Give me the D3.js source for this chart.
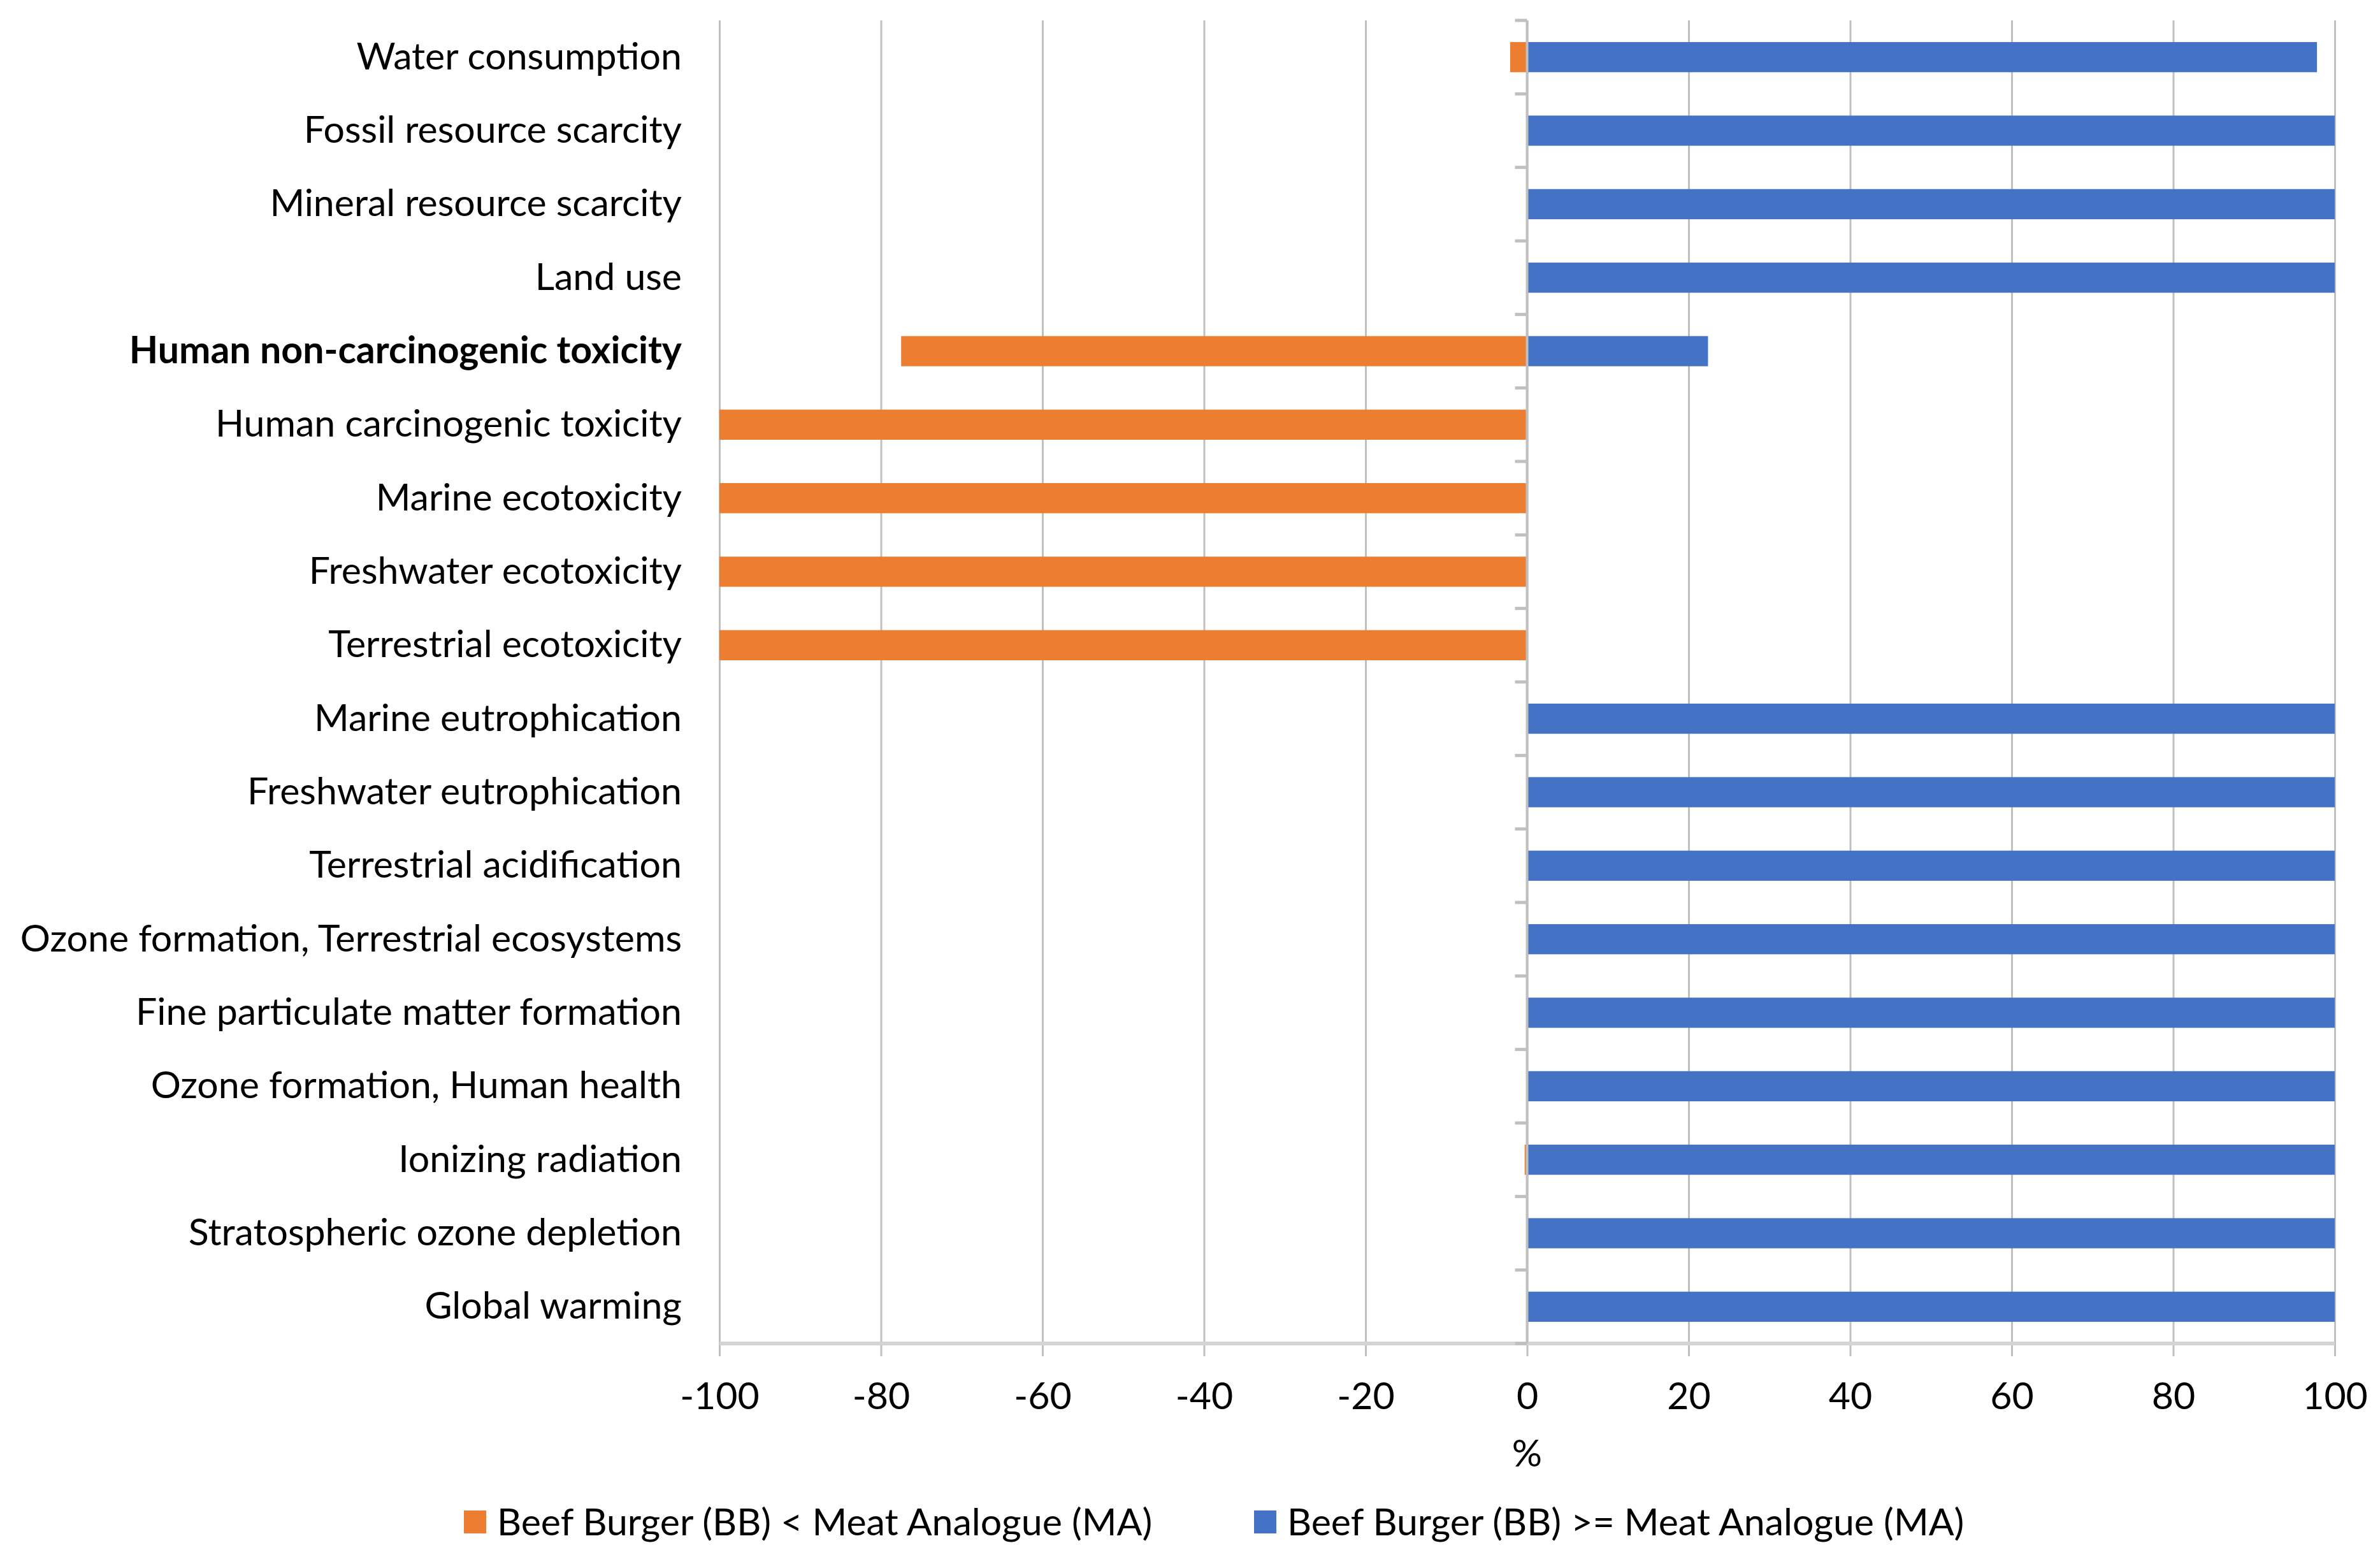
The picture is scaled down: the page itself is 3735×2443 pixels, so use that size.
<!DOCTYPE html>
<html>
<head>
<meta charset="utf-8">
<script src="https://cdn.jsdelivr.net/npm/d3@7"></script>
<style>
  html, body { margin: 0; padding: 0; background: #ffffff; }
  svg { display: block; }
  text { font-family: Lato, "Open Sans", sans-serif; fill: #000; }
</style>
</head>
<body>
<svg id="chart" width="3735" height="2443"></svg>
<script>
const categories = [
  "Water consumption",
  "Fossil resource scarcity",
  "Mineral resource scarcity",
  "Land use",
  "Human non-carcinogenic toxicity",
  "Human carcinogenic toxicity",
  "Marine ecotoxicity",
  "Freshwater ecotoxicity",
  "Terrestrial ecotoxicity",
  "Marine eutrophication",
  "Freshwater eutrophication",
  "Terrestrial acidification",
  "Ozone formation, Terrestrial ecosystems",
  "Fine particulate matter formation",
  "Ozone formation, Human health",
  "Ionizing radiation",
  "Stratospheric ozone depletion",
  "Global warming"
];
// Beef Burger (BB) < Meat Analogue (MA)  (negative side, orange)
const lessValues = [-2.1, 0, 0, 0, -77.5, -100, -100, -100, -100, 0, 0, 0, 0, 0, 0, -0.3, 0, 0];
// Beef Burger (BB) >= Meat Analogue (MA) (positive side, blue)
const geValues = [97.8, 100, 100, 100, 22.4, 0, 0, 0, 0, 100, 100, 100, 100, 100, 100, 100, 100, 100];
const xTicks = [-100, -80, -60, -40, -20, 0, 20, 40, 60, 80, 100];
const boldCategories = ["Human non-carcinogenic toxicity"];
const seriesNames = ["Beef Burger (BB) < Meat Analogue (MA)", "Beef Burger (BB) >= Meat Analogue (MA)"];
const seriesColors = ["#ED7D31", "#4472C4"];
const axisTitle = "%";

const svg = d3.select("#chart");
const pLeft = 1129, pRight = 3664, pTop = 32, pBottom = 2108;
const fontSize = 59;
const fontFam = "Lato, 'Open Sans', sans-serif";

const x = d3.scaleLinear().domain([-100, 100]).range([pLeft, pRight]);
const y = d3.scaleBand().domain(categories).range([pTop, pBottom]).paddingInner(0.59).paddingOuter(0.295);

// vertical gridlines (extending below the axis as ticks)
const grid = svg.append("g").attr("transform", `translate(0,${pBottom + 20})`)
  .call(d3.axisBottom(x).tickValues(xTicks).tickSize(-(pBottom + 20 - pTop)).tickFormat(""));
grid.select(".domain").remove();
grid.selectAll(".tick line").attr("stroke", "#c0c0c0").attr("stroke-width", 3);

// horizontal axis line
svg.append("line")
  .attr("x1", pLeft).attr("x2", pRight).attr("y1", pBottom).attr("y2", pBottom)
  .attr("stroke", "#d4d4d4").attr("stroke-width", 6);

// bars
const rows = categories.map((c, i) => ({ c, less: lessValues[i], ge: geValues[i] }));
const bh = y.bandwidth();
svg.append("g").selectAll("rect").data(rows.filter(d => d.less !== 0)).join("rect")
  .attr("x", d => x(d.less)).attr("width", d => x(0) - x(d.less))
  .attr("y", d => y(d.c)).attr("height", bh).attr("fill", seriesColors[0]);
svg.append("g").selectAll("rect").data(rows.filter(d => d.ge !== 0)).join("rect")
  .attr("x", x(0)).attr("width", d => x(d.ge) - x(0))
  .attr("y", d => y(d.c)).attr("height", bh).attr("fill", seriesColors[1]);

// vertical category axis at zero with ticks at band boundaries
const step = y.step();
svg.append("line")
  .attr("x1", x(0)).attr("x2", x(0)).attr("y1", pTop).attr("y2", pBottom)
  .attr("stroke", "#c0c0c0").attr("stroke-width", 4);
const boundaries = categories.map(c => y(c) + bh / 2 - step / 2)
  .concat([y(categories[categories.length - 1]) + bh / 2 + step / 2]);
svg.append("g").selectAll("line").data(boundaries).join("line")
  .attr("x1", x(0) - 19).attr("x2", x(0)).attr("y1", d => d).attr("y2", d => d)
  .attr("stroke", "#c0c0c0").attr("stroke-width", 5);

// category labels
const yl = svg.append("g").attr("transform", `translate(1070,0)`)
  .call(d3.axisLeft(y).tickSize(0).tickPadding(0));
yl.select(".domain").remove();
yl.selectAll("text")
  .attr("font-size", fontSize)
  .attr("font-family", fontFam)
  .attr("fill", "#000")
  .attr("font-weight", d => boldCategories.includes(d) ? "bold" : "normal");

// x tick labels
const xl = svg.append("g").attr("transform", `translate(0,${pBottom})`)
  .call(d3.axisBottom(x).tickValues(xTicks).tickSize(0).tickFormat(d => String(d)));
xl.select(".domain").remove();
xl.selectAll("text").attr("y", 82).attr("dy", "0.35em")
  .attr("font-size", fontSize).attr("font-family", fontFam).attr("fill", "#000");

// axis title
svg.append("text").attr("x", x(0)).attr("y", 2280).attr("dy", "0.35em")
  .attr("text-anchor", "middle").attr("font-size", fontSize).attr("font-family", fontFam).text(axisTitle);

// legend
const legendX = [728, 1968];
const lg = svg.append("g").selectAll("g").data(seriesNames).join("g")
  .attr("transform", (d, i) => `translate(${legendX[i]},2388)`);
lg.append("rect").attr("x", 0).attr("y", -18).attr("width", 35).attr("height", 36)
  .attr("fill", (d, i) => seriesColors[i]);
lg.append("text").attr("x", 52).attr("y", 0).attr("dy", "0.35em")
  .attr("font-size", fontSize).attr("font-family", fontFam).text(d => d);
</script>
</body>
</html>
